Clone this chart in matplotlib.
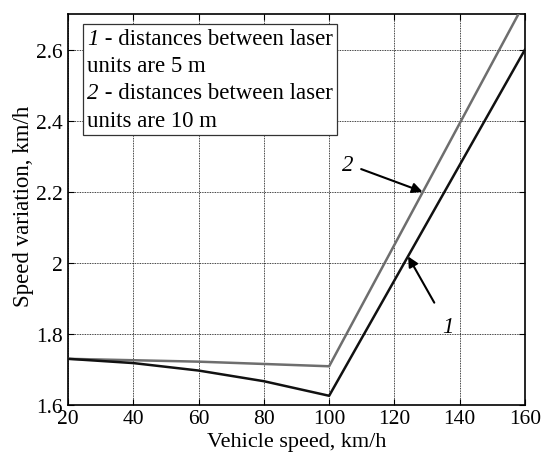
import matplotlib
matplotlib.use("Agg")
import matplotlib.pyplot as plt
from matplotlib.offsetbox import TextArea, HPacker, VPacker, AnchoredOffsetbox

# data
speed_1 = [20, 40, 60, 80, 100, 160]
var_1 = [1.730, 1.718, 1.697, 1.667, 1.626, 2.600]
speed_2 = [20, 60, 100, 160]
var_2 = [1.730, 1.722, 1.709, 2.734]

x_ticks = [20, 40, 60, 80, 100, 120, 140, 160]
y_ticks = [1.6, 1.8, 2.0, 2.2, 2.4, 2.6]
y_labels = ["1.6", "1.8", "2", "2.2", "2.4", "2.6"]

legend_rows = [("1", " - distances between laser"), ("", "units are 5 m"),
               ("2", " - distances between laser"), ("", "units are 10 m")]

plt.rcParams["font.family"] = ["Liberation Serif", "DejaVu Serif"]

FS = 15.5
FS_LEG = 16.5

fig = plt.figure(figsize=(5.41, 4.56), dpi=100, facecolor="white")
ax = fig.add_axes([0.1257, 0.1096, 0.8447, 0.8575])

ax.plot(speed_2, var_2, color="#6e6e6e", lw=1.8, zorder=3)
ax.plot(speed_1, var_1, color="#111111", lw=1.8, zorder=3)

ax.set_xlim(20, 160)
ax.set_ylim(1.6, 2.7)
ax.set_xticks(x_ticks)
ax.set_yticks(y_ticks)
ax.set_yticklabels(y_labels)
ax.tick_params(direction="in", length=4, width=0.8, labelsize=FS, colors="black",
               top=True, right=True)
ax.tick_params(axis="x", pad=3)
ax.tick_params(axis="y", pad=4)
ax.grid(True, color="black", linestyle=(0, (1, 1)), linewidth=0.6)
for sp in ax.spines.values():
    sp.set_linewidth(1.2)

ax.set_xlabel("Vehicle speed, km/h", fontsize=16, labelpad=3)
ax.set_ylabel("Speed variation, km/h", fontsize=16.5)
ax.yaxis.set_label_coords(-0.074, 0.51)

# legend box
rows = []
for num, rest in legend_rows:
    parts = []
    if num:
        parts.append(TextArea(num, textprops=dict(fontsize=FS_LEG, style="italic")))
    parts.append(TextArea(rest, textprops=dict(fontsize=FS_LEG)))
    rows.append(HPacker(children=parts, align="baseline", pad=0, sep=0))
box = VPacker(children=rows, align="left", pad=0, sep=4.5)
anch = AnchoredOffsetbox(loc="upper left", child=box, pad=0.3, borderpad=0,
                         frameon=True, bbox_to_anchor=(0.033, 0.975),
                         bbox_transform=ax.transAxes)
anch.patch.set_edgecolor("#333333")
anch.patch.set_linewidth(0.9)
anch.patch.set_boxstyle("square", pad=0)
anch.set_zorder(5)
ax.add_artist(anch)

# curve labels with arrows
ax.annotate("2", xy=(128.6, 2.2), xytext=(105.6, 2.278), fontsize=FS_LEG,
            style="italic", ha="center", va="center",
            arrowprops=dict(arrowstyle="-|>", color="black", lw=1.5,
                            mutation_scale=15, shrinkA=4, shrinkB=0))
ax.annotate("1", xy=(124.2, 2.018), xytext=(136.4, 1.82), fontsize=FS_LEG,
            style="italic", ha="center", va="center",
            arrowprops=dict(arrowstyle="-|>", color="black", lw=1.5,
                            mutation_scale=15, shrinkA=9, shrinkB=0))

fig.savefig("out.png", dpi=100, facecolor="white")
